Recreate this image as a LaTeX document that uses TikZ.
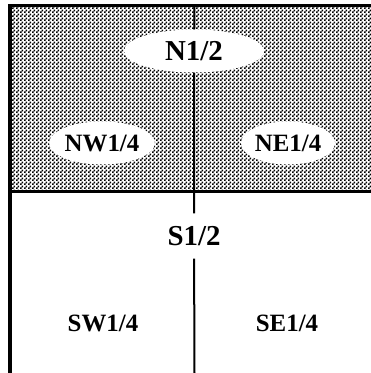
\documentclass[tikz,border=0pt]{standalone}
\usepackage{fontspec}
\setmainfont{Liberation Serif}
\usetikzlibrary{positioning,patterns,shapes.geometric}
\pgfdeclarepatternformonly{dither}{\pgfpointorigin}{\pgfqpoint{4bp}{4bp}}{\pgfqpoint{4bp}{4bp}}{
	\pgfpathrectangle{\pgfpointorigin}{\pgfqpoint{2.05bp}{2.05bp}}
	\pgfpathrectangle{\pgfqpoint{2bp}{2bp}}{\pgfqpoint{2.05bp}{2.05bp}}
	\pgfusepath{fill}
}

\begin{document}
\begin{tikzpicture}[
x = 1bp, y = 1bp,
every node/.style = {
	font = \fontsize{25}{25}\selectfont\bfseries
},
half/.style = {
	font = \fontsize{29}{29}\selectfont\bfseries
},
oval/.style = {
	ellipse,
	fill = white,
	inner sep = 0pt,
	minimum height = 43bp
},
border/.style = {
	line width = 3bp
},
divider/.style = {
	line width = 2bp
}
]

\useasboundingbox (0,0) rectangle (371,373);

% shaded north half
\fill[pattern = dither, pattern color = black] (10,181) rectangle (371,367);

\coordinate (nw) at (10,367);
\coordinate (ne) at (371,367);
\coordinate (w) at (10,181);
\coordinate (e) at (371,181);
\coordinate (sw) at (10,0);
\coordinate (top) at (194.5,367);
\coordinate (bottom) at (194.5,0);

\node [oval, half, minimum width = 140bp] (n) at (194,322) {N1/2};
\node [oval, minimum width = 92bp] (nwq) at (102,230) {NW1/4};
\node [oval, minimum width = 92bp] (neq) at (288,230) {NE1/4};

\node [half, inner sep = 0pt, minimum height = 45bp] (s) at (194,137) {S1/2};
\node (swq) at (103,50) {SW1/4};
\node (seq) at (287,50) {SE1/4};

\draw[border] (sw) -- (nw) -- (ne);
\draw[border] (w) -- (e);
\draw[divider] (top) -- (n) (n) -- (s) (s) -- (bottom);

\end{tikzpicture}
\end{document}
